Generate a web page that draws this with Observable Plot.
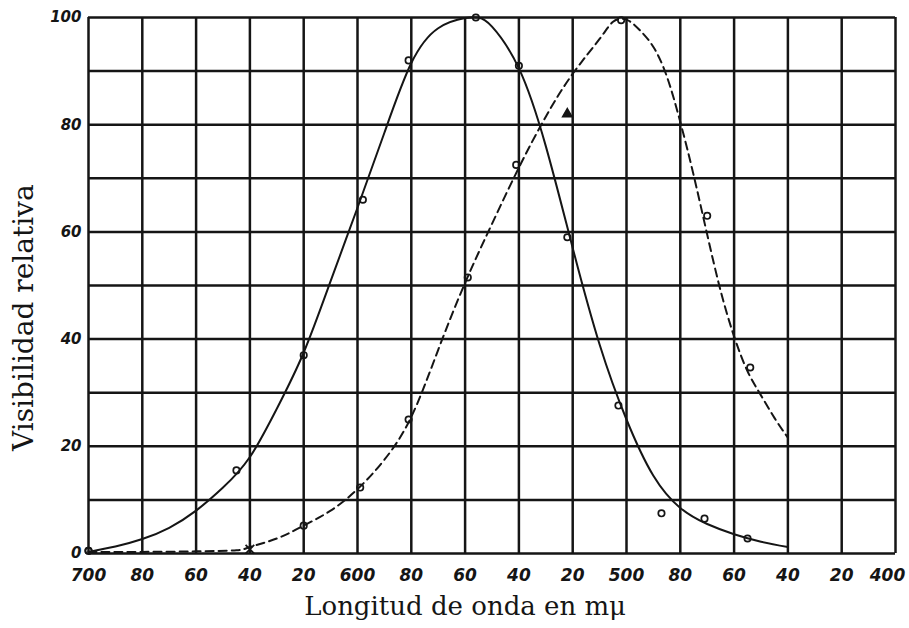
<!DOCTYPE html>
<html>
<head>
<meta charset="utf-8">
<script src="https://cdn.jsdelivr.net/npm/d3@7"></script>
<script src="https://cdn.jsdelivr.net/npm/@observablehq/plot@0.6"></script>
<style>
  html, body { margin: 0; padding: 0; background: #fff; }
  #chart { width: 909px; height: 628px; }
</style>
</head>
<body>
<div id="chart"></div>
<script>
// Tick values and labels
const xTicks = [700, 680, 660, 640, 620, 600, 580, 560, 540, 520, 500, 480, 460, 440, 420, 400];
const xTickLabels = ["700", "80", "60", "40", "20", "600", "80", "60", "40", "20", "500", "80", "60", "40", "20", "400"];
const yGrid = [0, 10, 20, 30, 40, 50, 60, 70, 80, 90, 100];
const yTicks = [0, 20, 40, 60, 80, 100];
const yTickLabels = ["0", "20", "40", "60", "80", "100"];

// Solid curve (photopic)
const photopicWave = [700, 690, 680, 670, 660, 650, 640, 630, 620, 610, 600, 590, 580, 570, 560, 555, 550, 540, 530, 520, 510, 500, 490, 480, 470, 460, 450, 440];
const photopicVis  = [0.3, 1.3, 2.7, 4.8, 8, 12.3, 18, 27, 37.5, 50.8, 64.5, 78.5, 91.5, 98, 99.9, 100, 98.3, 90.5, 76, 57, 39, 25, 14.5, 8.5, 5.5, 3.6, 2.2, 1.2];
// Solid curve measured points
const photopicPtWave = [700, 645, 620, 598, 581, 556, 540, 522, 503, 487, 471, 455];
const photopicPtVis  = [0.5, 15.5, 37, 66, 92, 100, 91, 59, 27.6, 7.5, 6.5, 2.8];

// Dashed curve (scotopic)
const scotopicWave = [700, 680, 660, 645, 640, 630, 620, 610, 600, 590, 580, 570, 560, 550, 540, 530, 520, 510, 505, 500, 495, 490, 485, 480, 475, 470, 465, 460, 455, 450, 445, 440];
const scotopicVis  = [0.3, 0.3, 0.4, 0.6, 1.2, 2.8, 5.2, 8, 12, 17.5, 25.5, 38, 50.5, 61.5, 72, 81.5, 89.5, 96, 99.2, 99.6, 97.6, 94.5, 89, 80.5, 70.5, 59.5, 49, 40.5, 34, 29.5, 25.3, 21.6];
// Dashed curve measured points
const scotopicPtWave = [700, 620, 599, 581, 559, 541, 502, 470, 454];
const scotopicPtVis  = [0.5, 5.2, 12.3, 25, 51.5, 72.5, 99.5, 63, 34.7];
const scotopicCrossWave = [640];
const scotopicCrossVis  = [0.8];
const scotopicTriWave = [522];
const scotopicTriVis  = [82];

const photopic = photopicWave.map((w, i) => ({w, v: photopicVis[i]}));
const photopicPts = photopicPtWave.map((w, i) => ({w, v: photopicPtVis[i]}));
const scotopic = scotopicWave.map((w, i) => ({w, v: scotopicVis[i]}));
const scotopicPts = scotopicPtWave.map((w, i) => ({w, v: scotopicPtVis[i]}));
const scotopicCross = scotopicCrossWave.map((w, i) => ({w, v: scotopicCrossVis[i]}));
const scotopicTri = scotopicTriWave.map((w, i) => ({w, v: scotopicTriVis[i]}));
const xLab = xTicks.map((t, i) => ({t, s: xTickLabels[i]}));
const xLabMain = xLab.slice(0, -1);
const xLabLast = xLab.slice(-1);
const yLab = yTicks.map((t, i) => ({t, s: yTickLabels[i]}));

const ink = "#151515";
const tickFont = "'DejaVu Sans', sans-serif";
const titleFont = "'DejaVu Serif', serif";
const tickStyle = {fontSize: 17, fontStyle: "italic", fontWeight: "bold", fontFamily: tickFont, fill: ink};

const chart = Plot.plot({
  width: 909,
  height: 628,
  marginLeft: 88,
  marginRight: 14,
  marginTop: 17,
  marginBottom: 75,
  x: {domain: [700, 400], axis: null},
  y: {domain: [0, 100], axis: null},
  style: {background: "#fff"},
  marks: [
    Plot.ruleX(xTicks, {stroke: ink, strokeWidth: 2.5}),
    Plot.ruleY(yGrid, {stroke: ink, strokeWidth: 2.5}),
    Plot.line(photopic, {x: "w", y: "v", curve: "natural", stroke: ink, strokeWidth: 2}),
    Plot.line(scotopic, {x: "w", y: "v", curve: "natural", stroke: ink, strokeWidth: 2, strokeDasharray: "8,5"}),
    Plot.dot(photopicPts, {x: "w", y: "v", r: 3.2, stroke: ink, strokeWidth: 1.7, fill: "none"}),
    Plot.dot(scotopicPts, {x: "w", y: "v", r: 3.2, stroke: ink, strokeWidth: 1.7, fill: "none"}),
    Plot.dot(scotopicCross, {x: "w", y: "v", r: 4, symbol: "times", stroke: ink, strokeWidth: 1.8}),
    Plot.dot(scotopicTri, {x: "w", y: "v", r: 3.5, symbol: "triangle", stroke: ink, strokeWidth: 1.5, fill: ink}),
    Plot.text(xLabMain, {x: "t", y: 0, text: "s", dy: 22, ...tickStyle}),
    Plot.text(xLabLast, {x: "t", y: 0, text: "s", dy: 22, dx: -8, ...tickStyle}),
    Plot.text(yLab, {x: 700, y: "t", text: "s", dx: -7, textAnchor: "end", fontSize: 15, fontStyle: "italic", fontWeight: "bold", fontFamily: tickFont, fill: ink}),
    Plot.text(["Longitud de onda en mμ"], {x: 560, y: 0, text: d => d, dy: 53, fontSize: 26, fontFamily: titleFont, fill: ink}),
    Plot.text(["Visibilidad relativa"], {x: 700, y: 44, text: d => d, dx: -64, rotate: -90, fontSize: 28, fontFamily: titleFont, fill: ink})
  ]
});
document.getElementById("chart").appendChild(chart);
</script>
</body>
</html>
